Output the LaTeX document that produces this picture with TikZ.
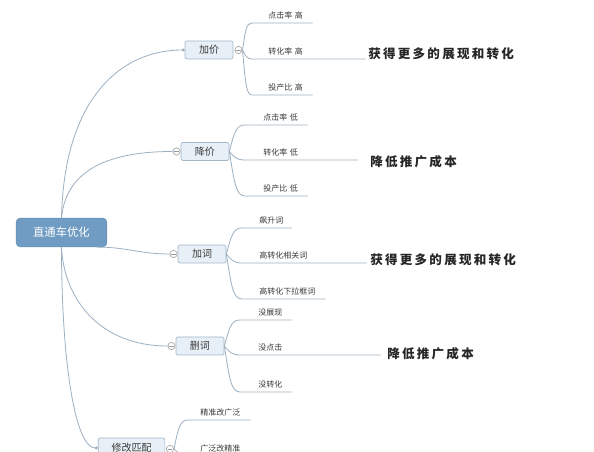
\documentclass[tikz,border=0pt]{standalone}
\usepackage{fontspec}
\setmainfont{Noto Sans CJK SC}
\newfontfamily\bigfont{Noto Sans CJK SC}
\usetikzlibrary{arrows.meta}
\definecolor{lineC}{HTML}{9CB0C2}
\definecolor{rootF}{HTML}{709CC3}
\definecolor{boxF}{HTML}{E8F0F7}
\definecolor{boxD}{HTML}{A3B7C9}
\definecolor{txt}{HTML}{3A3A3A}
\newcommand\ltrsp{\hspace{1.7pt}}
\tikzset{
  conn/.style={draw=lineC, line width=0.6pt},
  rootbox/.style={rectangle, rounded corners=3pt, fill=rootF, draw=rootF!90!black, text=white,
    font=\fontsize{8.5pt}{10pt}\selectfont, minimum width=68pt, minimum height=21.5pt, inner sep=0},
  topic/.style={rectangle, rounded corners=1.5pt, fill=boxF, draw=boxD, line width=0.5pt, text=txt,
    font=\fontsize{7.5pt}{9pt}\selectfont, minimum width=36pt, minimum height=13.5pt, inner sep=0},
  fold/.style={circle, draw=gray!70, fill=white, line width=0.5pt, minimum size=5.5pt, inner sep=0,
    path picture={\draw[gray!80, line width=0.5pt] ([xshift=1.2pt]path picture bounding box.west) -- ([xshift=-1.2pt]path picture bounding box.east);}},
  leaf/.style={anchor=south west, inner xsep=0, inner ysep=2.8pt, align=left, text=txt,
    font=\fontsize{6pt}{7pt}\selectfont},
  note/.style={anchor=west, inner sep=0, text=black!85, font=\bigfont\bfseries\fontsize{9.4pt}{11pt}\selectfont},
  dotend/.style={-{Circle[length=2.2pt]}}
}
\begin{document}
\begin{tikzpicture}[x=0.75pt, y=-0.75pt]
\fill[white] (0,0) rectangle (594,452);
\useasboundingbox (0,0) rectangle (594,452);

% root and topics
\node[rootbox] (root) at (61.5,232.5) {直通车优化};
\node[topic] (jj) at (209,50) {加价};
\node[fold] (fjj) at (238.5,50) {};
\node[topic] (zj) at (205,151.5) {降价};
\node[fold] (fzj) at (176.5,151.5) {};
\node[topic] (jc) at (202,254) {加词};
\node[fold] (fjc) at (173.5,254) {};
\node[topic] (sc) at (200,346) {删词};
\node[fold] (fsc) at (171.5,346) {};
\node[topic, minimum width=50pt, minimum height=15pt] (xg) at (131.5,448) {修改匹配};
\node[fold] (fxg) at (170,449) {};

% root connectors
\draw[conn, dotend] (root.north) .. controls +(2.5,-118) and +(-65,0) .. (jj.west);
\draw[conn] (root.north) .. controls +(4,-43) and +(-72,0) .. (fzj.west);
\draw[conn] ([xshift=-7.5pt]root.south east) .. controls +(30,0) and +(-30,0) .. (fjc.west);
\draw[conn] (root.south) .. controls +(2.5,53) and +(-67,0) .. (fsc.west);
\draw[conn, dotend] (root.south) .. controls +(0,113) and +(-23,0) .. (xg.west);

% leaves of 加价
\node[leaf, text width=45pt] (a1) at (252,23) {\hspace*{12pt}点击率 高};
\node[leaf, text width=84.75pt] (a2) at (252,59) {\hspace*{12pt}转化率 高};
\node[leaf, text width=45pt] (a3) at (252,95) {\hspace*{12pt}投产比 高};
\draw[conn] (fjj.east) .. controls +(3,-19) and +(-6,0) .. (a1.south west) -- (a1.south east);
\draw[conn] (fjj.east) .. controls +(3,6) and +(-5,0) .. (a2.south west) -- (a2.south east);
\draw[conn] (fjj.east) .. controls +(3,32) and +(-6,0) .. (a3.south west) -- (a3.south east);

% leaves of 降价
\node[leaf, text width=46.5pt] (b1) at (245,125) {\hspace*{13.5pt}点击率 低};
\node[leaf, text width=84pt] (b2) at (245,160) {\hspace*{13.5pt}转化率 低};
\node[leaf, text width=46.5pt] (b3) at (245,196) {\hspace*{13.5pt}投产比 低};
\draw[conn] (zj.east) .. controls +(5,-19) and +(-9,0) .. (b1.south west) -- (b1.south east);
\draw[conn] (zj.east) .. controls +(5,6) and +(-8,0) .. (b2.south west) -- (b2.south east);
\draw[conn] (zj.east) .. controls +(5,31) and +(-9,0) .. (b3.south west) -- (b3.south east);

% leaves of 加词
\node[leaf, text width=36.75pt] (c1) at (242,228) {\hspace*{12.75pt}飙升词};
\node[leaf, text width=93pt] (c2) at (242,263) {\hspace*{12.75pt}高转化相关词};
\node[leaf, text width=62.25pt] (c3) at (242,299) {\hspace*{12.75pt}高转化下拉框词};
\draw[conn] (jc.east) .. controls +(5,-18) and +(-9,0) .. (c1.south west) -- (c1.south east);
\draw[conn] (jc.east) .. controls +(5,6) and +(-8,0) .. (c2.south west) -- (c2.south east);
\draw[conn] (jc.east) .. controls +(5,32) and +(-9,0) .. (c3.south west) -- (c3.south east);

% leaves of 删词
\node[leaf, text width=38.25pt] (d1) at (240,320) {\hspace*{13.5pt}没展现};
\node[leaf, text width=105pt] (d2) at (240,355) {\hspace*{13.5pt}没点击};
\node[leaf, text width=38.25pt] (d3) at (240,392) {\hspace*{13.5pt}没转化};
\draw[conn] (sc.east) .. controls +(5,-18) and +(-9,0) .. (d1.south west) -- (d1.south east);
\draw[conn] (sc.east) .. controls +(5,6) and +(-8,0) .. (d2.south west) -- (d2.south east);
\draw[conn] (sc.east) .. controls +(5,32) and +(-9,0) .. (d3.south west) -- (d3.south east);

% leaves of 修改匹配
\node[leaf, text width=46.5pt] (e1) at (188,420) {\hspace*{9pt}精准改广泛};
\node[leaf, text width=46.5pt] (e2) at (188,456) {\hspace*{9pt}广泛改精准};
\draw[conn] (fxg.east) .. controls +(4,-20) and +(-8,0) .. (e1.south west) -- (e1.south east);
\draw[conn] (fxg.east) .. controls +(4,4) and +(-6,0) .. (e2.south west) -- (e2.south east);

% notes
\node[note] (g1) at (368,54) {获\ltrsp 得\ltrsp 更\ltrsp 多\ltrsp 的\ltrsp 展\ltrsp 现\ltrsp 和\ltrsp 转\ltrsp 化};
\node[note] (g2) at (370,162) {降\ltrsp 低\ltrsp 推\ltrsp 广\ltrsp 成\ltrsp 本};
\node[note] (g3) at (370,260) {获\ltrsp 得\ltrsp 更\ltrsp 多\ltrsp 的\ltrsp 展\ltrsp 现\ltrsp 和\ltrsp 转\ltrsp 化};
\node[note] (g4) at (387,354) {降\ltrsp 低\ltrsp 推\ltrsp 广\ltrsp 成\ltrsp 本};
\end{tikzpicture}
\end{document}
